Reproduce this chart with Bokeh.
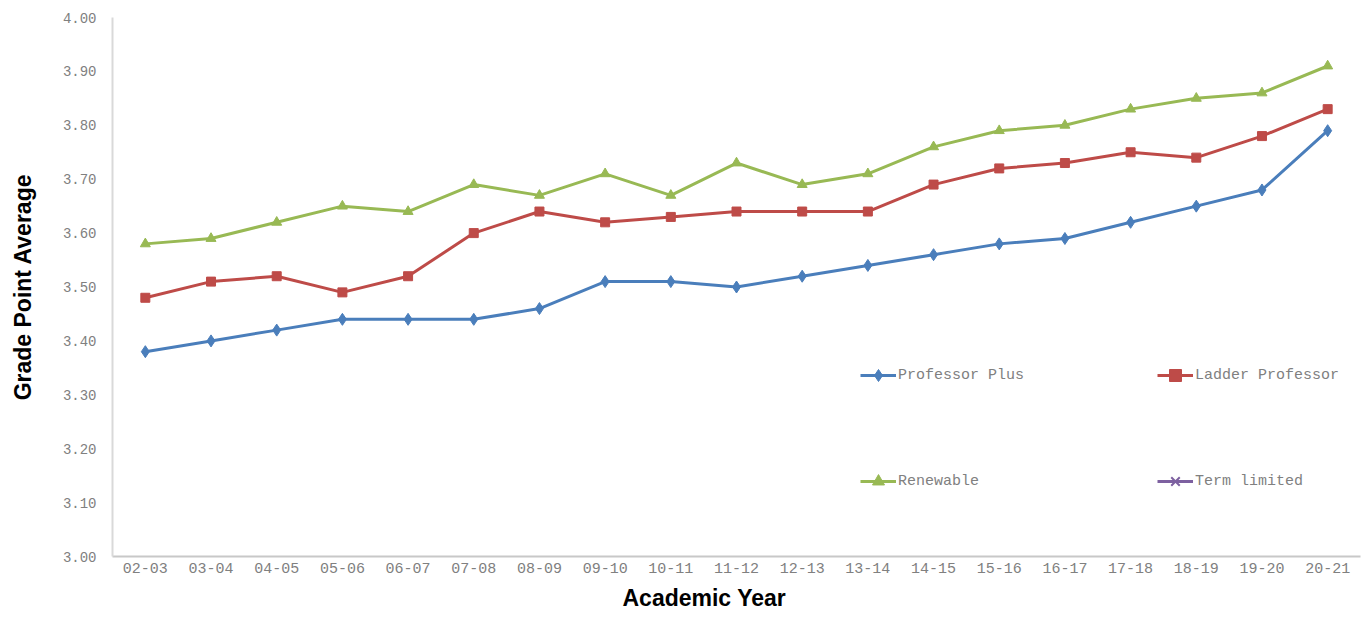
from bokeh.plotting import figure
from bokeh.models import Legend, LegendItem, FixedTicker, NumeralTickFormatter, ColumnDataSource, Title
from bokeh.embed import file_html
from bokeh.resources import INLINE

years = ["02-03", "03-04", "04-05", "05-06", "06-07", "07-08", "08-09", "09-10", "10-11",
         "11-12", "12-13", "13-14", "14-15", "15-16", "16-17", "17-18", "18-19", "19-20", "20-21"]
professor_plus = [3.38, 3.40, 3.42, 3.44, 3.44, 3.44, 3.46, 3.51, 3.51, 3.50,
                  3.52, 3.54, 3.56, 3.58, 3.59, 3.62, 3.65, 3.68, 3.79]
ladder_professor = [3.48, 3.51, 3.52, 3.49, 3.52, 3.60, 3.64, 3.62, 3.63, 3.64,
                    3.64, 3.64, 3.69, 3.72, 3.73, 3.75, 3.74, 3.78, 3.83]
renewable = [3.58, 3.59, 3.62, 3.65, 3.64, 3.69, 3.67, 3.71, 3.67, 3.73,
             3.69, 3.71, 3.76, 3.79, 3.80, 3.83, 3.85, 3.86, 3.91]
# Term limited has no plotted values (legend entry only)
term_limited_x = ["02-03"]
term_limited_y = [float("nan")]
y_ticks = [3.0, 3.1, 3.2, 3.3, 3.4, 3.5, 3.6, 3.7, 3.8, 3.9, 4.0]

BLUE = "#4a7ebb"
RED = "#be4b48"
GREEN = "#98b954"
PURPLE = "#7d60a0"
MONO = "Liberation Mono"

p = figure(width=1367, height=619, x_range=years, y_range=(3.0, 4.0),
           output_backend="svg", toolbar_location=None,
           min_border_left=112, min_border_right=7, min_border_top=17, min_border_bottom=63)
p.outline_line_color = None
p.xgrid.visible = False
p.ygrid.visible = False
p.x_range.range_padding = 0

r_pp_l = p.line(years, professor_plus, line_color=BLUE, line_width=3)
r_pp_m = p.scatter(years, professor_plus, marker="diamond", size=12, fill_color=BLUE, line_color=BLUE)
r_lp_l = p.line(years, ladder_professor, line_color=RED, line_width=3)
r_lp_m = p.scatter(years, ladder_professor, marker="square", size=9, fill_color=RED, line_color=RED)
r_rn_l = p.line(years, renewable, line_color=GREEN, line_width=3)
r_rn_m = p.scatter(years, renewable, marker="triangle", size=10, fill_color=GREEN, line_color=GREEN)
tl_src = ColumnDataSource(data=dict(x=term_limited_x, y=term_limited_y))
r_tl_l = p.line("x", "y", source=tl_src, line_color=PURPLE, line_width=3)
r_tl_m = p.scatter("x", "y", source=tl_src, marker="x", size=11, line_color=PURPLE, line_width=2)

# axes
p.yaxis.ticker = FixedTicker(ticks=y_ticks)
p.yaxis.formatter = NumeralTickFormatter(format="0.00")
for ax in (p.xaxis[0], p.yaxis[0]):
    ax.major_tick_line_color = None
    ax.minor_tick_line_color = None
    ax.major_label_text_font = MONO
    ax.major_label_text_color = "#808080"
    ax.axis_label_text_font = "Liberation Sans"
    ax.axis_label_text_font_style = "bold"
    ax.axis_label_text_font_size = "23px"
    ax.axis_label_text_color = "#000000"
p.yaxis.axis_line_color = "#d9d9d9"
p.yaxis.axis_line_width = 2
p.xaxis.axis_line_color = "#c8c8c8"
p.xaxis.axis_line_width = 2
p.yaxis.major_label_text_font_size = "14px"
p.xaxis.major_label_text_font_size = "15px"
p.yaxis.major_label_standoff = 10
p.xaxis.major_label_standoff = 0
p.yaxis.axis_label = "Grade Point Average"
p.yaxis.axis_label_standoff = 24

# x axis title, slightly left of centre as in the reference
p.add_layout(Title(text="Academic Year", align="left", offset=510,
                   text_font="Liberation Sans", text_font_style="bold",
                   text_font_size="23px", text_color="#000000",
                   standoff=15), "below")

# legends (one per entry, placed in a 2x2 grid)
entries = [("Professor Plus", [r_pp_l, r_pp_m], (748, 166)),
           ("Ladder Professor", [r_lp_l, r_lp_m], (1045, 166)),
           ("Renewable", [r_rn_l, r_rn_m], (748, 60)),
           ("Term limited", [r_tl_l, r_tl_m], (1045, 60))]
for label, rends, loc in entries:
    lg = Legend(items=[LegendItem(label=label, renderers=rends)], location=loc,
                padding=0, margin=0, spacing=0,
                border_line_color=None, background_fill_alpha=0,
                glyph_width=36, glyph_height=30, label_standoff=2,
                label_text_font=MONO, label_text_font_size="15px",
                label_text_color="#808080")
    p.add_layout(lg)

open("out.html", "w").write(file_html(p, INLINE))
